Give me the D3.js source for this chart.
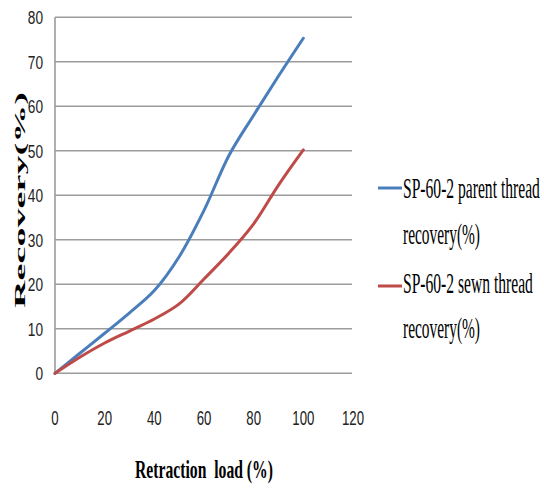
<!DOCTYPE html>
<html>
<head>
<meta charset="utf-8">
<script src="https://cdn.jsdelivr.net/npm/d3@7"></script>
<style>
  body { margin: 0; background: #fff; }
  svg { display: block; }
</style>
</head>
<body>
<svg id="chart" width="544" height="494"></svg>
<script>
// Recovery (%) of SP-60-2 thread against retraction load (%)
const loads = [0, 10, 20, 30, 40, 50, 60, 70, 80, 90, 100];
const parentRecovery = [0, 4.5, 9.0, 13.6, 18.6, 26.2, 36.6, 48.9, 58.0, 66.8, 75.3];
const sewnRecovery = [0, 3.6, 6.8, 9.5, 12.2, 15.6, 21.2, 27.0, 33.6, 42.3, 50.2];
const xTicks = [0, 20, 40, 60, 80, 100, 120];
const yTicks = [0, 10, 20, 30, 40, 50, 60, 70, 80];
const seriesNames = [
  ["SP-60-2 parent thread", "recovery(%)"],
  ["SP-60-2 sewn thread", "recovery(%)"]
];
const seriesColors = ["#4a7ebb", "#be4b48"];
const xTitle = "Retraction  load (%)";
const yTitle = "Recovery(%)";

const svg = d3.select("#chart");
const serif = "'Liberation Serif', 'Times New Roman', serif";
const sans = "'Liberation Sans', Arial, sans-serif";

const x = d3.scaleLinear().domain([0, 120]).range([55, 353]);
const y = d3.scaleLinear().domain([0, 80]).range([373.3, 17.3]);

// squeeze a text horizontally so it spans the given width
function fitWidth(sel, tx, ty, width, anchor) {
  const w = sel.node().getComputedTextLength();
  const s = width / w;
  sel.attr("text-anchor", anchor || "start")
     .attr("transform", `translate(${tx},${ty}) scale(${s},1)`);
}

// horizontal gridlines
svg.append("g")
  .selectAll("line")
  .data(yTicks)
  .join("line")
  .attr("x1", x(0))
  .attr("x2", x(120) - 1)
  .attr("y1", d => y(d))
  .attr("y2", d => y(d))
  .attr("stroke", "#9c9c9c")
  .attr("stroke-width", 1.6);

// vertical axis line
svg.append("line")
  .attr("x1", x(0)).attr("x2", x(0))
  .attr("y1", y(80)).attr("y2", y(0))
  .attr("stroke", "#9c9c9c")
  .attr("stroke-width", 1.6);

// y tick labels
svg.append("g")
  .selectAll("text")
  .data(yTicks)
  .join("text")
  .attr("transform", d => `translate(43,${y(d) + 7}) scale(0.72,1)`)
  .attr("text-anchor", "end")
  .attr("font-family", sans)
  .attr("font-size", 19)
  .attr("fill", "#222")
  .text(d => d);

// x tick labels
svg.append("g")
  .selectAll("text")
  .data(xTicks)
  .join("text")
  .attr("transform", d => `translate(${x(d)},425) scale(0.66,1)`)
  .attr("text-anchor", "middle")
  .attr("font-family", sans)
  .attr("font-size", 20)
  .attr("fill", "#222")
  .text(d => d);

// series lines
const line = d3.line()
  .x(d => x(d[0]))
  .y(d => y(d[1]))
  .curve(d3.curveCatmullRom.alpha(0.5));

const series = [parentRecovery, sewnRecovery];
series.forEach((vals, i) => {
  svg.append("path")
    .datum(loads.map((l, j) => [l, vals[j]]))
    .attr("d", line)
    .attr("fill", "none")
    .attr("stroke", seriesColors[i])
    .attr("stroke-width", 3)
    .attr("stroke-linecap", "round")
    .attr("stroke-linejoin", "round");
});

// legend
const legendRows = [
  { lineY: 188, base: [198, 244], widths: [137, 77] },
  { lineY: 286, base: [293, 338], widths: [130, 77] }
];
legendRows.forEach((row, i) => {
  svg.append("line")
    .attr("x1", 378).attr("x2", 402)
    .attr("y1", row.lineY).attr("y2", row.lineY)
    .attr("stroke", seriesColors[i])
    .attr("stroke-width", 3);
  seriesNames[i].forEach((txt, k) => {
    const t = svg.append("text")
      .attr("font-family", serif)
      .attr("font-size", 29)
      .attr("fill", "#000")
      .text(txt);
    fitWidth(t, 403, row.base[k], row.widths[k]);
  });
});

// x axis title
const xt = svg.append("text")
  .attr("font-family", serif)
  .attr("font-weight", "bold")
  .attr("font-size", 25)
  .attr("fill", "#000")
  .style("white-space", "pre")
  .text(xTitle);
fitWidth(xt, 135, 478, 138);

// y axis title
svg.append("text")
  .attr("transform", "translate(25,200) scale(0.62,1) rotate(-90)")
  .attr("text-anchor", "middle")
  .attr("font-family", serif)
  .attr("font-weight", "bold")
  .attr("font-size", 25)
  .attr("fill", "#000")
  .attr("textLength", 216)
  .attr("lengthAdjust", "spacingAndGlyphs")
  .text(yTitle);
</script>
</body>
</html>
